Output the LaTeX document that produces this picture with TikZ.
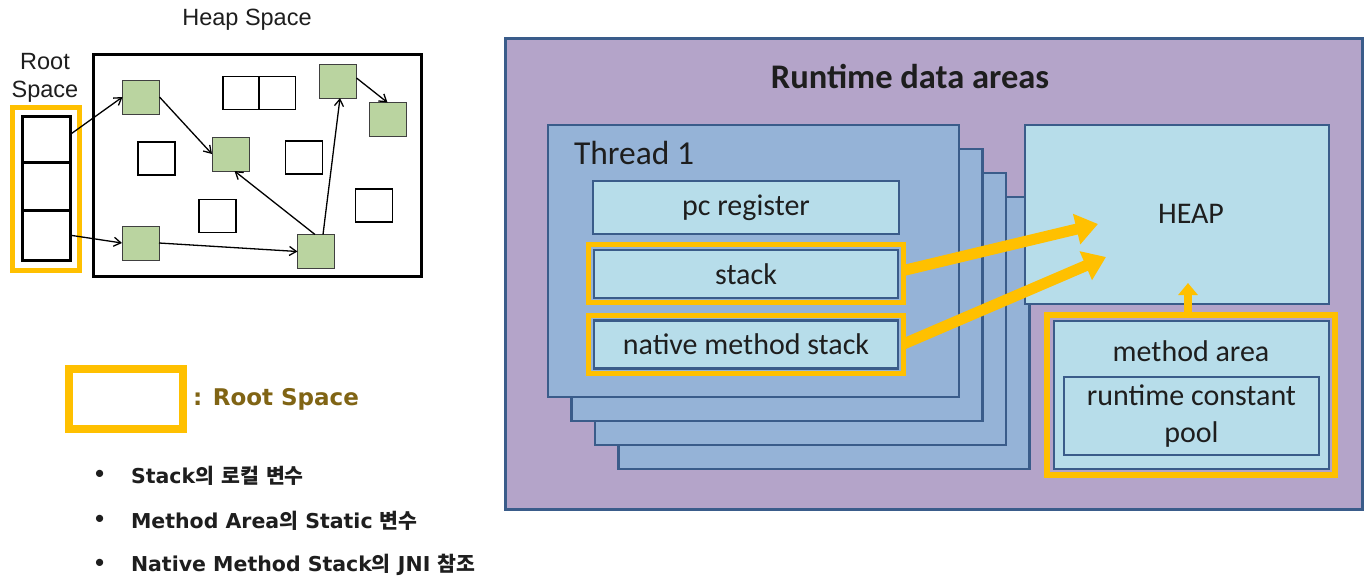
\documentclass[tikz,border=0pt]{standalone}
\usepackage{fontspec}
\usetikzlibrary{arrows.meta}
\setmainfont{Liberation Sans}
\newfontfamily\calfont{Carlito}
\newfontfamily\dvfont{DejaVu Sans}
\newfontfamily\krfont{Noto Sans CJK KR}
\newcommand\hg[1]{{\krfont\bfseries #1}}
\definecolor{goldc}{RGB}{255,192,0}
\definecolor{lav}{RGB}{180,164,201}
\definecolor{thrc}{RGB}{149,179,215}
\definecolor{lb}{RGB}{183,221,234}
\definecolor{bd}{RGB}{58,92,138}
\definecolor{gr}{RGB}{186,212,160}
\definecolor{olivec}{RGB}{128,100,20}
\definecolor{txt}{RGB}{30,30,30}
\begin{document}
\begin{tikzpicture}[x=1pt,y=-1pt,
 every node/.style={inner sep=0pt, outer sep=0pt},
 gsq/.style={draw=black!75, fill=gr, line width=1pt, minimum width=37pt, minimum height=34pt},
 wsq/.style={draw=black, fill=white, line width=1.2pt, minimum width=37pt, minimum height=33pt},
 cell/.style={draw=black, line width=3pt, minimum width=48pt},
 lar/.style={line width=1.3pt, -{Straight Barb[length=7pt,width=9pt]}},
 thr/.style={draw=bd, fill=thrc, line width=2.5pt, minimum width=411pt, minimum height=272pt, anchor=north west},
 lbox/.style={draw=bd, fill=lb, line width=2.5pt},
 goldbox/.style={draw=goldc, line width=5pt},
 fat/.style={draw=goldc, line width=11pt, -{Triangle[length=22pt,width=30pt]}},
 rtxt/.style={font=\calfont\fontsize{30}{37.5}\selectfont, text=txt},
 ltxt/.style={font=\fontsize{23.5}{28}\selectfont, text=txt},
 btxt/.style={font=\dvfont\bfseries\fontsize{20.5}{24}\selectfont, text=txt, anchor=west},
]
\useasboundingbox (0,0) rectangle (1372,581);
\fill[white] (0,0) rectangle (1372,581);

% ---------- left: heap space ----------
\node[ltxt] (hstitle) at (247,20) {Heap Space};
\node[ltxt, align=center] (rstitle) at (45,78) {Root\\Space};
\node[draw=black, line width=3pt, minimum width=328pt, minimum height=222pt] (heap) at (257.5,165.5) {};
\node[goldbox, minimum width=67pt, minimum height=163pt] (rootO) at (46,189) {};
\node[cell, minimum height=45.5pt] (cell1) at (46.5,139.25) {};
\node[cell, minimum height=48pt] (cell2) at (46.5,186) {};
\node[cell, minimum height=50.5pt] (cell3) at (46.5,235.25) {};

\node[wsq, minimum width=36pt] (w1a) at (241,93) {};
\node[wsq, minimum width=36pt] (w1b) at (277.5,93) {};
\node[wsq] (w2) at (156.5,158.5) {};
\node[wsq] (w3) at (304,157.5) {};
\node[wsq] (w4) at (217.5,216) {};
\node[wsq] (w5) at (374,205.5) {};

\node[gsq] (g1) at (141,97) {};
\node[gsq] (g2) at (230.5,154) {};
\node[gsq] (g3) at (338,81) {};
\node[gsq] (g4) at (387.5,119.5) {};
\node[gsq] (g5) at (140.5,243) {};
\node[gsq] (g6) at (316,251.5) {};

\draw[lar] ([yshift=5]cell1.east) -- (g1.west);
\draw[lar] (g1.east) -- (g2.west);
\draw[lar] ([xshift=-1]g6.north) -- ([xshift=4]g2.south);
\draw[lar] ([xshift=7]g6.north) -- ([xshift=2]g3.south);
\draw[lar] ([yshift=3]g3.east) -- (g4.north);
\draw[lar] (cell3.east) -- (g5.west);
\draw[lar] (g5.east) -- (g6.west);

% ---------- legend ----------
\node[draw=goldc, fill=white, line width=8pt, minimum width=114pt, minimum height=60pt] (leg) at (126,399) {};
\node[font=\dvfont\bfseries\fontsize{23}{26}\selectfont, text=olivec, anchor=west] (legt) at (193,399) {: Root Space};
\node[btxt] (b1) at (93,476) {•};
\node[btxt] (b2) at (93,521) {•};
\node[btxt] (b3) at (93,565) {•};
\node[btxt] (t1) at (131,476) {Stack\hg{의} \hg{로컬} \hg{변수}};
\node[btxt] (t2) at (131,521) {Method Area\hg{의} Static \hg{변수}};
\node[btxt] (t3) at (131,565) {Native Method Stack\hg{의} JNI \hg{참조}};

% ---------- right: runtime data areas ----------
\node[draw=bd, fill=lav, line width=3pt, minimum width=857pt, minimum height=471pt, anchor=north west] (rda) at (505.5,38.5) {};
\node[font=\calfont\bfseries\fontsize{34.5}{40}\selectfont, text=txt] (rdat) at (910,76) {Runtime data areas};

\node[thr] (t4b) at (618.5,197) {};
\node[thr] (t3b) at (595,173) {};
\node[thr] (t2b) at (571.5,149) {};
\node[thr] (t1b) at (548,125) {};
\node[font=\calfont\fontsize{33.5}{38}\selectfont, text=txt, anchor=west] (t1t) at (574,153) {Thread 1};

\node[lbox, rtxt, minimum width=306pt, minimum height=53pt] (pc) at (746,207.5) {pc register};
\node[goldbox, minimum width=315pt, minimum height=58pt] (stackO) at (746,273.5) {};
\node[lbox, rtxt, minimum width=304pt, minimum height=48pt] (stack) at (746,274) {stack};
\node[goldbox, minimum width=315pt, minimum height=58pt] (nmsO) at (746,344) {};
\node[lbox, rtxt, minimum width=304pt, minimum height=48pt] (nms) at (746,344.5) {native method stack};

\node[lbox, minimum width=304pt, minimum height=179pt] (heapA) at (1177,214.5) {};
\node[rtxt] (heapt) at (1191,214) {HEAP};
\node[draw=goldc, line width=6pt, minimum width=288pt, minimum height=160pt] (maO) at (1191,395) {};
\node[lbox, minimum width=275pt, minimum height=148pt] (ma) at (1191.5,395) {};
\node[rtxt] (mat) at (1191,351) {method area};
\node[lbox, rtxt, align=center, minimum width=255pt, minimum height=78pt] (rcp) at (1191.5,416) {runtime constant\\pool};

\coordinate (h1) at (1098,224);
\coordinate (h2) at (1106,257);
\coordinate (hu) at (1188,283);
\draw[fat] ([yshift=3]stackO.east) -- (h1);
\draw[fat] (nmsO.east) -- (h2);
\draw[draw=goldc, line width=8pt, -{Triangle[length=12pt,width=19pt]}] (maO.north -| hu) -- (hu);
\end{tikzpicture}
\end{document}
